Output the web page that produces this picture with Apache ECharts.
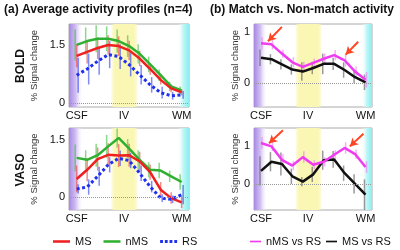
<!DOCTYPE html>
<html>
<head>
<meta charset="utf-8">
<script src="https://cdn.jsdelivr.net/npm/echarts@6/dist/echarts.min.js"></script>
<style>
  html, body { margin: 0; padding: 0; background: #fff; }
  #chart { width: 400px; height: 250px; }
</style>
</head>
<body>
<div id="chart"></div>
<script>
// cortical depth positions, CSF -> WM
var depth = [0, 1, 2, 3, 4, 5, 6, 7, 8, 9, 10];
var xTickPos = [0, 4.5, 10];
var xTickText = ['CSF', 'IV', 'WM'];

// (a) BOLD
var boldMS  = [1.22, 1.32, 1.42, 1.50, 1.47, 1.36, 1.15, 0.88, 0.60, 0.38, 0.28];
var boldNMS = [1.50, 1.60, 1.66, 1.66, 1.60, 1.47, 1.27, 1.00, 0.72, 0.43, 0.33];
var boldRS  = [0.72, 0.88, 1.08, 1.25, 1.20, 0.99, 0.73, 0.47, 0.27, 0.19, 0.21];
var boldMSErr  = [0.30, 0.30, 0.28, 0.25, 0.25, 0.25, 0.20, 0.15, 0.12, 0.10, 0.08];
var boldNMSErr = [0.40, 0.35, 0.35, 0.32, 0.30, 0.28, 0.25, 0.20, 0.15, 0.12, 0.10];
var boldRSErr  = [0.45, 0.40, 0.35, 0.35, 0.32, 0.30, 0.25, 0.20, 0.15, 0.10, 0.10];

// (a) VASO
var vasoMS  = [0.48, 0.72, 1.00, 1.11, 1.09, 1.10, 0.94, 0.66, 0.20, -0.02, -0.13];
var vasoNMS = [1.03, 0.98, 1.10, 1.33, 1.55, 1.27, 0.98, 0.72, 0.70, 0.55, 0.40];
var vasoRS  = [0.22, 0.27, 0.55, 0.85, 1.02, 0.96, 0.63, 0.28, -0.02, -0.05, 0.07];
var vasoMSErr  = [0.35, 0.30, 0.30, 0.30, 0.30, 0.30, 0.25, 0.20, 0.20, 0.15, 0.15];
var vasoNMSErr = [0.35, 0.25, 0.30, 0.30, 0.25, 0.25, 0.25, 0.20, 0.20, 0.15, 0.20];
var vasoRSErr  = [0.12, 0.20, 0.25, 0.20, 0.20, 0.20, 0.20, 0.15, 0.10, 0.10, 0.25];

// (b) BOLD differences
var boldNMSvsRS = [0.78, 0.76, 0.58, 0.41, 0.32, 0.40, 0.48, 0.55, 0.45, 0.23, 0.07];
var boldMSvsRS  = [0.50, 0.47, 0.37, 0.27, 0.23, 0.30, 0.38, 0.38, 0.26, 0.12, 0.02];
var boldNMSvsRSErr = [0.12, 0.10, 0.08, 0.10, 0.10, 0.08, 0.10, 0.10, 0.12, 0.10, 0.15];
var boldMSvsRSErr  = [0.16, 0.10, 0.10, 0.10, 0.18, 0.12, 0.20, 0.12, 0.15, 0.12, 0.15];

// (b) VASO differences
var vasoNMSvsRS = [1.07, 0.98, 0.63, 0.48, 0.70, 0.50, 0.58, 0.76, 0.94, 0.78, 0.44];
var vasoMSvsRS  = [0.34, 0.58, 0.52, 0.20, 0.06, 0.25, 0.62, 0.64, 0.28, 0.00, -0.28];
var vasoNMSvsRSErr = [0.15, 0.12, 0.15, 0.12, 0.15, 0.12, 0.12, 0.12, 0.15, 0.12, 0.15];
var vasoMSvsRSErr  = [0.38, 0.25, 0.30, 0.20, 0.12, 0.20, 0.25, 0.22, 0.20, 0.25, 0.40];

// red arrows in (b): [fromX, fromY, toX, toY]
var arrowsBold = [[2.0, 1.10, 0.67, 0.82], [9.3, 0.81, 8.1, 0.56]];
var arrowsVaso = [[2.1, 1.40, 0.77, 1.06], [9.8, 1.31, 8.5, 0.98]];

var cMS = '#ee2020', cNMS = '#30b030', cRS = '#2030ee', cMag = '#f03cf0', cBlk = '#111111';

function pairs(v) {
  return v.map(function (y, i) { return [depth[i], y]; });
}

function errBars(gi, v, e, color, dx) {
  return {
    type: 'custom', xAxisIndex: gi, yAxisIndex: gi, silent: true, z: 3,
    data: v.map(function (y, i) { return [depth[i], y - e[i], y + e[i]]; }),
    renderItem: function (params, api) {
      var lo = api.coord([api.value(0), api.value(1)]);
      var hi = api.coord([api.value(0), api.value(2)]);
      return {
        type: 'line',
        shape: { x1: lo[0] + dx, y1: lo[1], x2: hi[0] + dx, y2: hi[1] },
        style: { stroke: color, lineWidth: 1.5 }
      };
    }
  };
}

// background bands (purple CSF, yellow layer IV, cyan WM)
var bandFrom = [-2, 3.3, 9.6];
var bandTo = [0.6, 5.8, 12];
function bands(gi) {
  return {
    type: 'custom', xAxisIndex: gi, yAxisIndex: gi, silent: true, z: 0,
    data: bandFrom.map(function (a, i) { return [a, bandTo[i], i]; }),
    renderItem: function (params, api) {
      var cs = params.coordSys;
      var x0 = Math.max(api.coord([api.value(0), 0])[0], cs.x);
      var x1 = Math.min(api.coord([api.value(1), 0])[0], cs.x + cs.width);
      var k = api.value(2);
      var fill;
      if (k === 0) {
        fill = new echarts.graphic.LinearGradient(0, 0, 1, 0, [
          { offset: 0, color: '#a888e4' }, { offset: 0.5, color: '#d2c2f2' }, { offset: 1, color: 'rgba(255,255,255,0)' }]);
      } else if (k === 1) {
        fill = new echarts.graphic.LinearGradient(0, 0, 1, 0, [
          { offset: 0, color: 'rgba(250,246,170,0.3)' }, { offset: 0.15, color: '#faf6b4' },
          { offset: 0.85, color: '#faf6b4' }, { offset: 1, color: 'rgba(250,246,170,0.3)' }]);
      } else {
        fill = new echarts.graphic.LinearGradient(0, 0, 1, 0, [
          { offset: 0, color: 'rgba(255,255,255,0)' }, { offset: 0.5, color: '#bff6f6' }, { offset: 1, color: '#8aeef0' }]);
      }
      return { type: 'rect', shape: { x: x0, y: cs.y, width: x1 - x0, height: cs.height }, style: { fill: fill } };
    }
  };
}

function lineS(gi, name, v, color, dashed, extra) {
  var s = {
    name: name, type: 'line', xAxisIndex: gi, yAxisIndex: gi, z: 4,
    data: pairs(v), symbol: 'none', silent: true,
    lineStyle: { color: color, width: dashed ? 3 : 2.5, type: dashed ? [3, 2.5] : 'solid' },
    itemStyle: { color: color }
  };
  if (extra) { for (var k in extra) s[k] = extra[k]; }
  return s;
}

function zeroLine() {
  return {
    silent: true, symbol: 'none', label: { show: false },
    lineStyle: { type: 'dotted', color: '#999', width: 1 },
    data: [{ yAxis: 0 }]
  };
}

function arrowLine(list) {
  return {
    silent: true, symbol: ['none', 'arrow'], symbolSize: [7, 8], label: { show: false },
    lineStyle: { type: 'solid', color: '#ff4422', width: 2 },
    data: list.map(function (a) { return [{ coord: [a[0], a[1]] }, { coord: [a[2], a[3]] }]; })
  };
}

var grids = [
  { left: 69, top: 24, width: 120, height: 83 },
  { left: 254, top: 24, width: 118, height: 83 },
  { left: 69, top: 128, width: 120, height: 82 },
  { left: 254, top: 128, width: 118, height: 82 }
];
var xMin = [-0.73, -0.67, -0.73, -0.67];
var xMax = [10.7, 10.62, 10.7, 10.62];
var yMin = [-0.1, -0.46, -0.33, -0.68];
var yMax = [2.04, 1.156, 1.81, 1.46];
var yTicks = [[0, 1.5], [0, 1], [0, 1.5], [0, 1]];
var yNameGap = [30, 13, 30, 13];

var solidIcon = 'path://M0,0h20v3h-20z';
var dotIcon = 'path://M2,0h3v3h-3zM7,0h3v3h-3zM12,0h3v3h-3zM17,0h3v3h-3z';

var chart = echarts.init(document.getElementById('chart'));
chart.setOption({
  animation: false,
  textStyle: { fontFamily: 'Liberation Sans, Arial, sans-serif' },
  grid: grids.map(function (g) {
    return { left: g.left, top: g.top, width: g.width, height: g.height, show: true,
      borderColor: '#aaa', borderWidth: 1, backgroundColor: '#fff' };
  }),
  xAxis: grids.map(function (g, i) {
    return {
      type: 'value', gridIndex: i, min: xMin[i], max: xMax[i],
      axisLine: { show: false }, axisTick: { show: false }, splitLine: { show: false },
      axisLabel: {
        customValues: xTickPos, margin: 3, fontSize: 11, color: '#111',
        formatter: function (v) { return xTickText[xTickPos.indexOf(v)]; }
      }
    };
  }),
  yAxis: grids.map(function (g, i) {
    return {
      type: 'value', gridIndex: i, min: yMin[i], max: yMax[i],
      name: '% Signal change', nameLocation: 'middle', nameGap: yNameGap[i],
      nameTextStyle: { fontSize: 9.5, color: '#333' },
      axisLine: { show: false }, axisTick: { show: false }, splitLine: { show: false },
      axisLabel: { customValues: yTicks[i], margin: 4, fontSize: 11, color: '#111' }
    };
  }),
  legend: [
    { left: 48, top: 231, itemWidth: 17, itemHeight: 3, itemGap: 12,
      textStyle: { fontSize: 11, color: '#111' },
      data: [{ name: 'MS', icon: solidIcon }, { name: 'nMS', icon: solidIcon }, { name: 'RS', icon: dotIcon }] },
    { left: 245, top: 231, itemWidth: 11, itemHeight: 3, itemGap: 5,
      textStyle: { fontSize: 11, color: '#111' },
      data: [{ name: 'nMS vs RS', icon: solidIcon }, { name: 'MS vs RS', icon: solidIcon }] }
  ],
  graphic: [
    { type: 'text', left: 4, top: 4, style: { text: '(a) Average activity profiles (n=4)', font: 'bold 12px Liberation Sans, Arial', fill: '#111' } },
    { type: 'text', left: 210, top: 4, style: { text: '(b) Match vs. Non-match activity', font: 'bold 12px Liberation Sans, Arial', fill: '#111' } },
    { type: 'text', x: 21, y: 66, rotation: Math.PI / 2, style: { text: 'BOLD', font: 'bold 12px Liberation Sans, Arial', fill: '#111', align: 'center', verticalAlign: 'middle' } },
    { type: 'text', x: 21, y: 170, rotation: Math.PI / 2, style: { text: 'VASO', font: 'bold 12px Liberation Sans, Arial', fill: '#111', align: 'center', verticalAlign: 'middle' } }
  ],
  series: [
    bands(0), bands(1), bands(2), bands(3),

    errBars(0, boldNMS, boldNMSErr, 'rgba(60,190,60,0.6)', -1.5),
    errBars(0, boldMS, boldMSErr, 'rgba(240,60,60,0.6)', 0),
    errBars(0, boldRS, boldRSErr, 'rgba(40,60,240,0.6)', 1.5),
    lineS(0, 'nMS', boldNMS, cNMS, false, { markLine: zeroLine() }),
    lineS(0, 'MS', boldMS, cMS, false),
    lineS(0, 'RS', boldRS, cRS, true),

    errBars(1, boldMSvsRS, boldMSvsRSErr, 'rgba(110,110,110,0.7)', -1),
    errBars(1, boldNMSvsRS, boldNMSvsRSErr, 'rgba(240,120,240,0.6)', 1),
    lineS(1, 'MS vs RS', boldMSvsRS, cBlk, false, { markLine: zeroLine() }),
    lineS(1, 'nMS vs RS', boldNMSvsRS, cMag, false, { markLine: arrowLine(arrowsBold) }),

    errBars(2, vasoNMS, vasoNMSErr, 'rgba(60,190,60,0.6)', -1.5),
    errBars(2, vasoMS, vasoMSErr, 'rgba(240,60,60,0.6)', 0),
    errBars(2, vasoRS, vasoRSErr, 'rgba(40,60,240,0.6)', 1.5),
    lineS(2, 'nMS', vasoNMS, cNMS, false, { markLine: zeroLine() }),
    lineS(2, 'MS', vasoMS, cMS, false),
    lineS(2, 'RS', vasoRS, cRS, true),

    errBars(3, vasoMSvsRS, vasoMSvsRSErr, 'rgba(110,110,110,0.7)', -1),
    errBars(3, vasoNMSvsRS, vasoNMSvsRSErr, 'rgba(240,120,240,0.6)', 1),
    lineS(3, 'MS vs RS', vasoMSvsRS, cBlk, false, { markLine: zeroLine() }),
    lineS(3, 'nMS vs RS', vasoNMSvsRS, cMag, false, { markLine: arrowLine(arrowsVaso) })
  ]
});
</script>
</body>
</html>
